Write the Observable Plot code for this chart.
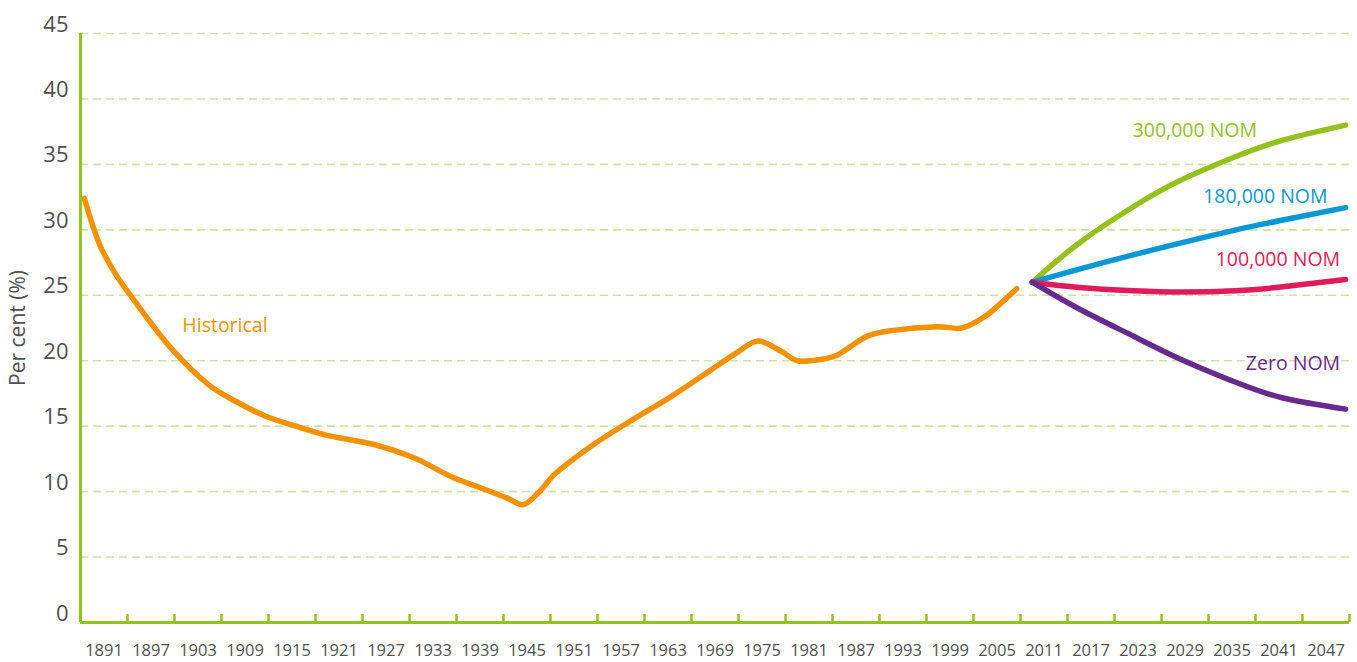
<!DOCTYPE html>
<html>
<head>
<meta charset="utf-8">
<script src="https://cdn.jsdelivr.net/npm/d3@7"></script>
<script src="https://cdn.jsdelivr.net/npm/@observablehq/plot@0.6"></script>
<style>
  html, body { margin: 0; padding: 0; background: #fff; }
  svg { display: block; }
</style>
</head>
<body>
<div id="chart"></div>
<script>
// ---- Data ----
const histYears  = [1891, 1893, 1895, 1897, 1902, 1907, 1910, 1914, 1918, 1922, 1928, 1933, 1938, 1942, 1945, 1947, 1949, 1951, 1956, 1961, 1966, 1971, 1974, 1977, 1980, 1982, 1985, 1987, 1991, 1994, 2000, 2003, 2006, 2008, 2010];
const histValues = [32.4, 28.8, 26.6, 24.9, 21.0, 18.1, 17.0, 15.8, 15.0, 14.3, 13.6, 12.6, 11.1, 10.2, 9.5, 9.0, 9.95, 11.3, 13.6, 15.5, 17.3, 19.3, 20.5, 21.5, 20.7, 20.0, 20.1, 20.4, 21.9, 22.3, 22.6, 22.5, 23.4, 24.4, 25.5];

const projYears   = [2012, 2018, 2025, 2031, 2038, 2044, 2052];
const nom300000   = [26.0, 29.0, 31.8, 33.8, 35.6, 36.85, 38.0];
const nom180000   = [26.0, 27.0, 28.1, 29.0, 30.0, 30.75, 31.7];
const nom100000   = [26.0, 25.6, 25.35, 25.25, 25.35, 25.65, 26.2];
const nomZero     = [26.0, 23.95, 21.85, 20.1, 18.35, 17.15, 16.3];

const scenarioNames  = ["300,000 NOM", "180,000 NOM", "100,000 NOM", "Zero NOM"];
const scenarioColors = ["#95c11f", "#0a97d4", "#e01b5a", "#682a8c"];

const xTickLabels = d3.range(1891, 2048, 6);          // 1891 ... 2047
const yTicks      = [0, 5, 10, 15, 20, 25, 30, 35, 40, 45];

// ---- Tables ----
const historical = histYears.map((year, i) => ({year, value: histValues[i]}));
const scenarioSeries = [nom300000, nom180000, nom100000, nomZero];
const projections = scenarioSeries.flatMap((vals, s) =>
  projYears.map((year, i) => ({year, value: vals[i], scenario: scenarioNames[s]})));

// ---- Layout ----
const W = 1357, H = 662;
const mL = 80, mR = 8, mT = 33, mB = 40;
const innerH = H - mT - mB;
const xDomain = [1890.5, 2052.5];
const boundaries = xTickLabels.map(y => y + 5.5);      // group edges (6-year bands)
const labelCenters = xTickLabels.map(y => y + 2.5);

const green = "#8fc31f";
const gridColor = "#cde3a3";
const textColor = "#505052";
const font = "'Open Sans', 'Noto Sans', sans-serif";

const labels = [
  {text: "300,000 NOM", year: 2040.7, value: 37.6},
  {text: "180,000 NOM", year: 2049.7, value: 32.5},
  {text: "100,000 NOM", year: 2051.3, value: 27.7},
  {text: "Zero NOM",    year: 2051.3, value: 19.8}
];

const chart = Plot.plot({
  width: W,
  height: H,
  marginLeft: mL, marginRight: mR, marginTop: mT, marginBottom: mB,
  style: {fontFamily: font, background: "#fff", overflow: "visible"},
  x: {domain: xDomain, axis: null},
  y: {domain: [0, 45], axis: null},
  color: {domain: scenarioNames, range: scenarioColors},
  marks: [
    Plot.gridY(yTicks.filter(d => d > 0), {stroke: gridColor, strokeOpacity: 1, strokeWidth: 1.6, strokeDasharray: "8,5"}),
    Plot.axisY(yTicks, {tickSize: 0, tickPadding: 12, dy: -9, fontSize: 22, fill: textColor, label: null}),
    Plot.axisX(labelCenters, {tickSize: 0, tickPadding: 22, fontSize: 16.5, fill: textColor, label: null,
      tickFormat: d => String(d - 2.5)}),
    Plot.ruleX(boundaries, {stroke: green, strokeWidth: 2.5, insetTop: innerH - 8}),
    Plot.ruleX([xDomain[0]], {stroke: green, strokeWidth: 3}),
    Plot.ruleY([0], {stroke: green, strokeWidth: 3}),
    Plot.line(historical, {x: "year", y: "value", curve: "catmull-rom", stroke: "#f39200", strokeWidth: 5.5, strokeLinecap: "round", strokeLinejoin: "round"}),
    Plot.line(projections, {x: "year", y: "value", z: "scenario", stroke: "scenario", curve: "natural", strokeWidth: 5.5, strokeLinecap: "round", strokeLinejoin: "round"}),
    Plot.text(labels, {x: "year", y: "value", text: "text", textAnchor: "end", fill: d => d.text, fontSize: 19.5}),
    Plot.text(["Historical"], {x: [1903.5], y: [22.7], text: d => d, textAnchor: "start", fill: "#f39200", fontSize: 19.5}),
    Plot.text(["Per cent (%)"], {frameAnchor: "left", dx: -62, rotate: -90, textAnchor: "middle", text: d => d, fill: textColor, fontSize: 21})
  ]
});

document.getElementById("chart").appendChild(chart);
</script>
</body>
</html>
